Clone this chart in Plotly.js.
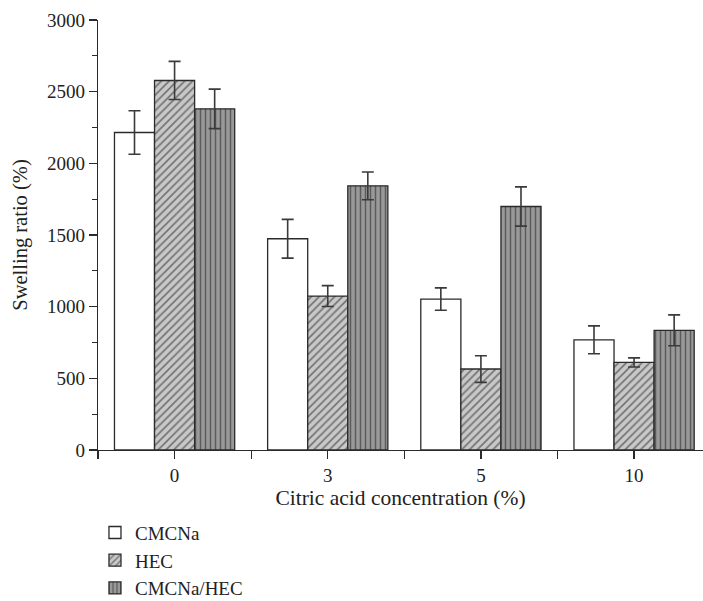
<!DOCTYPE html>
<html>
<head>
<meta charset="utf-8">
<script src="https://cdn.plot.ly/plotly-3.0.1.min.js"></script>
<style>html,body{margin:0;padding:0;background:#fff;}#chart{width:703px;height:601px;}</style>
</head>
<body>
<div id="chart"></div>
<script>
const categories = ["0", "3", "5", "10"];
const cmcnaValues = [2215, 1474, 1053, 769];
const cmcnaErrors = [152, 135, 78, 97];
const hecValues = [2578, 1074, 565, 611];
const hecErrors = [133, 73, 93, 32];
const blendValues = [2380, 1843, 1699, 835];
const blendErrors = [138, 97, 137, 108];

const positions = categories.map((c, i) => i);
const FONT = "Liberation Serif, Times New Roman, serif";
const LINE = "#2a2a2a";

function err(arr) {
  return {type: "data", array: arr, visible: true, color: "#3a3a3a", thickness: 1.6, width: 6};
}

const traces = [
  {
    type: "bar", name: "CMCNa", x: positions, y: cmcnaValues,
    error_y: err(cmcnaErrors),
    marker: {color: "#ffffff", line: {color: LINE, width: 1.3}}
  },
  {
    type: "bar", name: "HEC", x: positions, y: hecValues,
    error_y: err(hecErrors),
    marker: {color: "#c8c8c8", line: {color: LINE, width: 1.3},
      pattern: {shape: "/", bgcolor: "#c8c8c8", fgcolor: "#1e1e1e", size: 5.5, solidity: 0.3, fillmode: "overlay"}}
  },
  {
    type: "bar", name: "CMCNa/HEC", x: positions, y: blendValues,
    error_y: err(blendErrors),
    marker: {color: "#999999", line: {color: LINE, width: 1.3},
      pattern: {shape: "|", bgcolor: "#999999", fgcolor: "#1e1e1e", size: 5, solidity: 0.3, fillmode: "overlay"}}
  }
];

const layout = {
  width: 703, height: 601,
  margin: {l: 98, r: 0, t: 20, b: 151, autoexpand: false},
  paper_bgcolor: "#fff", plot_bgcolor: "#fff",
  barmode: "group", bargap: 0.215, bargroupgap: 0,
  font: {family: FONT, size: 19, color: "#222"},
  showlegend: true,
  legend: {x: -0.005, xanchor: "left", y: -0.148, yanchor: "top", orientation: "v",
    font: {family: FONT, size: 19, color: "#222"}, bgcolor: "rgba(0,0,0,0)", tracegroupgap: 0},
  xaxis: {
    type: "linear", range: [-0.5, 3.45], automargin: false,
    tickmode: "array", tickvals: positions, ticktext: categories,
    ticks: "outside", ticklen: 8, tickwidth: 1.3, tickcolor: LINE,
    minor: {tickmode: "array", tickvals: [-0.5, 0.5, 1.5, 2.5], ticks: "outside", ticklen: 8, tickwidth: 1.3, tickcolor: LINE},
    showline: true, linecolor: LINE, linewidth: 1.3,
    showgrid: false, zeroline: false,
    tickfont: {family: FONT, size: 19, color: "#222"},
    title: {text: "Citric acid concentration (%)", font: {family: FONT, size: 21.5, color: "#222"}, standoff: 4}
  },
  yaxis: {
    range: [0, 3000], tickmode: "linear", tick0: 0, dtick: 500, automargin: false,
    ticks: "outside", ticklen: 8, tickwidth: 1.3, tickcolor: LINE,
    minor: {dtick: 250, ticks: "outside", ticklen: 5, tickwidth: 1.3, tickcolor: LINE},
    showline: true, linecolor: LINE, linewidth: 1.3,
    showgrid: false, zeroline: false,
    tickfont: {family: FONT, size: 19, color: "#222"},
    title: {text: "Swelling ratio (%)", font: {family: FONT, size: 20.5, color: "#222"}, standoff: 13}
  }
};

Plotly.newPlot("chart", traces, layout, {displayModeBar: false, staticPlot: true});
</script>
</body>
</html>
